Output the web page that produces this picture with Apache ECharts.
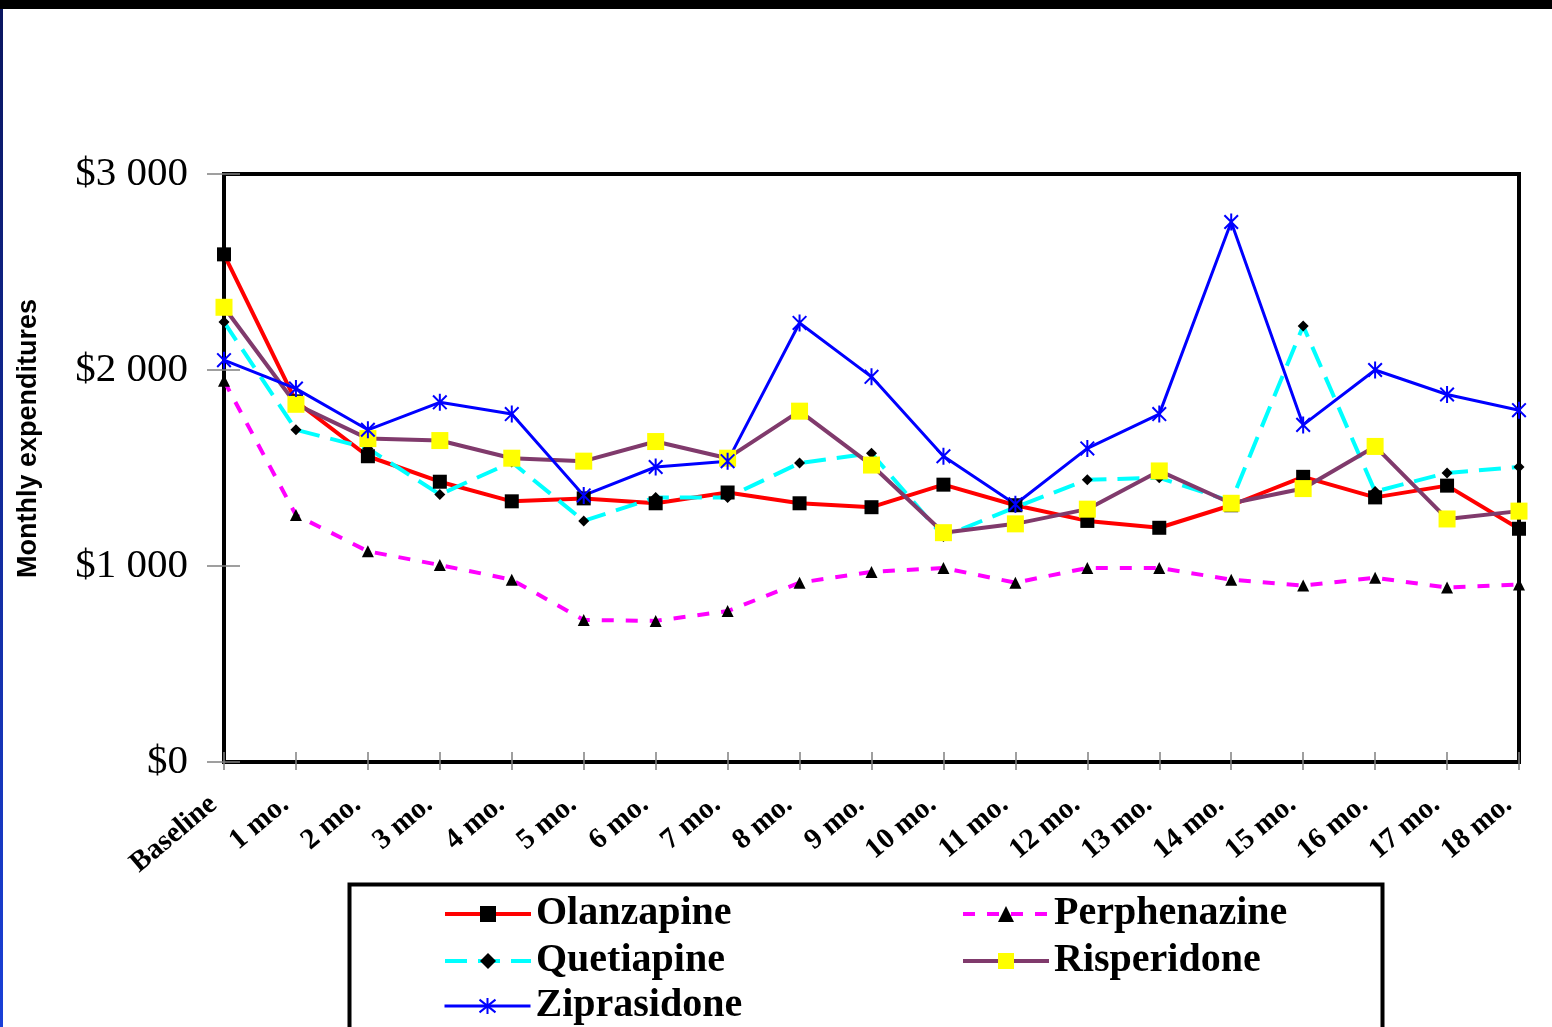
<!DOCTYPE html>
<html><head><meta charset="utf-8">
<script src="https://cdn.jsdelivr.net/npm/echarts@6/dist/echarts.min.js"></script>
<style>html,body{margin:0;padding:0;background:#fff;}#c{width:1552px;height:1027px;}</style>
</head><body><div id="c"></div>
<script>
const categories = ['Baseline','1 mo.','2 mo.','3 mo.','4 mo.','5 mo.','6 mo.','7 mo.','8 mo.','9 mo.','10 mo.','11 mo.','12 mo.','13 mo.','14 mo.','15 mo.','16 mo.','17 mo.','18 mo.'];
const olanzapine   = [2590,1840,1560,1430,1330,1345,1320,1375,1320,1300,1415,1310,1230,1195,1310,1455,1350,1410,1190];
const perphenazine = [1945,1260,1075,1005,930,725,720,770,915,970,990,915,990,990,930,900,940,890,905];
const quetiapine   = [2245,1695,1600,1365,1530,1230,1350,1350,1525,1575,1150,1300,1440,1450,1330,2225,1380,1475,1505];
const risperidone  = [2320,1825,1650,1640,1550,1535,1635,1550,1790,1515,1170,1215,1290,1485,1320,1395,1610,1240,1280];
const ziprasidone  = [2050,1905,1695,1835,1775,1360,1505,1535,2240,1965,1560,1315,1600,1775,2755,1720,2000,1875,1795];
const seriesNames = ['Olanzapine','Perphenazine','Quetiapine','Risperidone','Ziprasidone'];

const serif = "'Liberation Serif','Times New Roman',serif";
const sans = "'Liberation Sans',Arial,sans-serif";
const asterisk = 'path://M0,-10 L0,10 M-8,-8 L8,8 M-8,8 L8,-8';

function fmt(v){ const s=String(v); return '$' + (s.length>3 ? s.slice(0,s.length-3)+' '+s.slice(-3) : s); }

const chart = echarts.init(document.getElementById('c'));
const legendText = {fontFamily: serif, fontWeight:'bold', fontSize:40, color:'#000', lineHeight:42};
function leg(name, left, top, lw){
  return {data:[name],orient:'horizontal',left:left,top:top,itemWidth:86,itemHeight:20,itemGap:0,
    textStyle:legendText,selectedMode:false,lineStyle:{width:lw}};
}
chart.setOption({
  backgroundColor:'#fff',
  animation:false,
  grid:{left:224,right:33,top:174,bottom:265,show:true,borderColor:'#000',borderWidth:4,backgroundColor:'transparent'},
  xAxis:[{
    type:'category',data:categories,boundaryGap:false,
    axisLine:{lineStyle:{color:'#000',width:4}},
    axisTick:{show:true,length:8,inside:false,lineStyle:{color:'#808080',width:1.5}},
    axisLabel:{rotate:40,margin:30,padding:[0,14,0,0],fontFamily:serif,fontWeight:'bold',fontSize:29,color:'#000',interval:0},
    splitLine:{show:false}
  },{
    type:'category',data:categories,boundaryGap:false,position:'bottom',
    axisLine:{show:false},
    axisTick:{show:true,length:10,inside:true,lineStyle:{color:'#808080',width:1.5}},
    axisLabel:{show:false},splitLine:{show:false}
  }],
  yAxis:[{
    type:'value',min:0,max:3000,interval:1000,
    axisLine:{show:true,lineStyle:{color:'#000',width:4}},
    axisTick:{show:true,length:17,lineStyle:{color:'#808080',width:1.5}},
    axisLabel:{margin:36,fontFamily:serif,fontSize:41,color:'#000',formatter:function(v){return fmt(v);}},
    splitLine:{show:false}
  },{
    type:'value',min:0,max:3000,interval:1000,position:'left',
    axisLine:{show:false},
    axisTick:{show:true,inside:true,length:16,lineStyle:{color:'#808080',width:1.5}},
    axisLabel:{show:false},splitLine:{show:false}
  }],
  legend:[
    leg(seriesNames[0],438,888,4),
    leg(seriesNames[1],956,888,4),
    leg(seriesNames[2],438,935,4),
    leg(seriesNames[3],956,935,4),
    leg(seriesNames[4],438,980,3)
  ],
  graphic:[
    {type:'rect',left:0,top:0,shape:{width:1552,height:9},style:{fill:'#000'},z:100},
    {type:'rect',left:0,top:9,shape:{width:3,height:1018},style:{fill:new echarts.graphic.LinearGradient(0,0,0,1,[{offset:0,color:'#0a1660'},{offset:1,color:'#1a40d8'}])},z:100},
    {type:'rect',left:347,top:882,shape:{width:1033,height:200},style:{fill:'none',stroke:'#000',lineWidth:4},z:100},
    {type:'text',rotation:Math.PI/2,style:{text:'Monthly expenditures',font:"bold 27px "+sans,fill:'#000'},x:15,y:578}
  ],
  series:[
    {name:seriesNames[0],type:'line',data:olanzapine,symbol:'rect',symbolSize:14,
     lineStyle:{color:'#ff0000',width:4},itemStyle:{color:'#000'},z:2},
    {name:seriesNames[1],type:'line',data:perphenazine,symbol:'triangle',symbolSize:12,
     lineStyle:{color:'#ff00ff',width:4,type:[12,12]},itemStyle:{color:'#000'},z:2},
    {name:seriesNames[2],type:'line',data:quetiapine,symbol:'diamond',symbolSize:11,
     lineStyle:{color:'#00ffff',width:4,type:[22,11]},itemStyle:{color:'#000'},z:2},
    {name:seriesNames[3],type:'line',data:risperidone,symbol:'rect',symbolSize:17,
     lineStyle:{color:'#803a6c',width:4},itemStyle:{color:'#ffff00'},z:2},
    {name:seriesNames[4],type:'line',data:ziprasidone,symbol:asterisk,symbolSize:17,symbolKeepAspect:true,
     lineStyle:{color:'#0000ff',width:3},itemStyle:{color:'#0000ff',borderColor:'#0000ff',borderWidth:2},z:2}
  ]
});
</script>
</body></html>
